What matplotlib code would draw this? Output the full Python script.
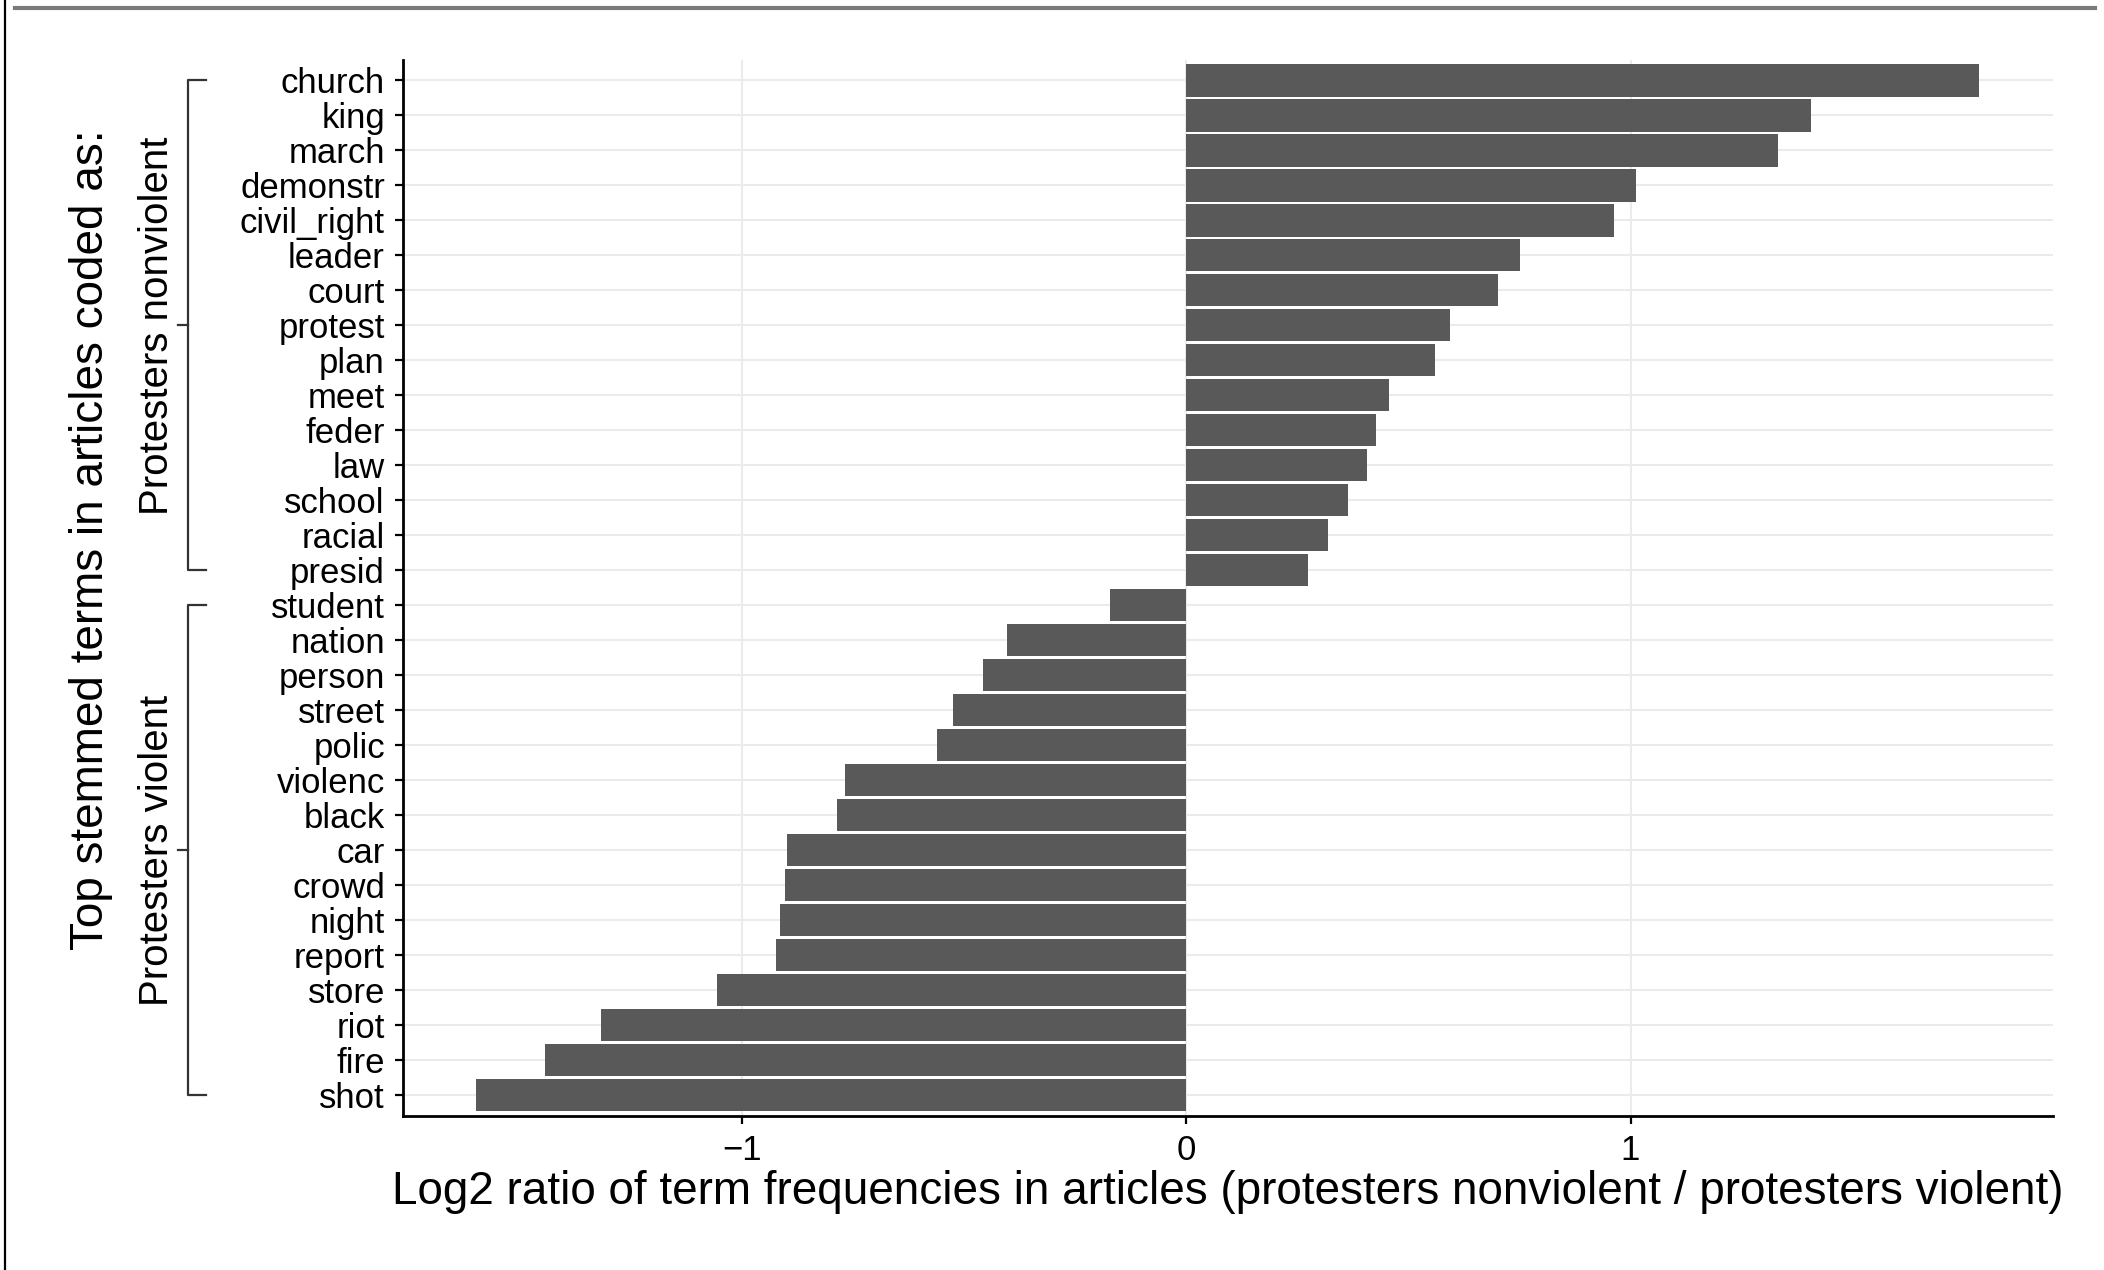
import matplotlib
matplotlib.use("Agg")
import matplotlib.pyplot as plt
from matplotlib.lines import Line2D
from matplotlib.transforms import blended_transform_factory

terms = ["church", "king", "march", "demonstr", "civil_right", "leader", "court",
         "protest", "plan", "meet", "feder", "law", "school", "racial", "presid",
         "student", "nation", "person", "street", "polic", "violenc", "black",
         "car", "crowd", "night", "report", "store", "riot", "fire", "shot"]
log2_ratio = [1.784, 1.406, 1.331, 1.012, 0.963, 0.751, 0.702,
              0.594, 0.560, 0.457, 0.428, 0.408, 0.363, 0.319, 0.275,
              -0.172, -0.403, -0.457, -0.525, -0.560, -0.767, -0.786,
              -0.899, -0.904, -0.914, -0.923, -1.056, -1.317, -1.444, -1.598]
group_names = ["Protesters nonviolent", "Protesters violent"]
group_sizes = [15, 15]
x_ticks = [-1, 0, 1]
x_ticklabels = ["\u22121", "0", "1"]
x_label = "Log2 ratio of term frequencies in articles (protesters nonviolent / protesters violent)"
y_title = "Top stemmed terms in articles coded as:"

plt.rcParams['font.family'] = ['Liberation Sans', 'DejaVu Sans']

W, H = 2104, 1270
fig = plt.figure(figsize=(W / 100, H / 100), dpi=100)
ax = fig.add_axes([403 / W, 1 - 1116 / H, (2053 - 403) / W, (1116 - 59.5) / H])

n = len(terms)
ypos = [n - 1 - i for i in range(n)]
ax.barh(ypos, log2_ratio, height=0.92, color='#595959', zorder=2)
ax.set_ylim(-0.6, n - 1 + 0.6)
ax.set_xlim(-1.763, 1.951)
ax.set_yticks(ypos)
ax.set_yticklabels(terms, fontsize=25)
ax.set_xticks(x_ticks)
ax.set_xticklabels(x_ticklabels, fontsize=25)
ax.grid(True, color='#ebebeb', lw=1.5, zorder=0)
ax.set_axisbelow(True)
for s in ['top', 'right']:
    ax.spines[s].set_visible(False)
for s in ['left', 'bottom']:
    ax.spines[s].set_linewidth(2)
    ax.spines[s].set_color('black')
ax.tick_params(axis='both', length=6, width=1.6, color='black', pad=7, labelcolor='black')

# x label
fig.text((403 + 2053) / 2 / W, 1 - 1192 / H, x_label, fontsize=33, ha='center', va='center')
# y title
fig.text(91 / W, 1 - 540 / H, y_title, fontsize=33, rotation=90, ha='center', va='center')

# brackets and group labels
tr = blended_transform_factory(fig.transFigure, ax.transData)
xv, xe, xm = 188 / W, 206 / W, 178 / W
start = 0
for name, size in zip(group_names, group_sizes):
    top = ypos[start]
    bot = ypos[start + size - 1]
    mid = (top + bot) / 2
    kw = dict(transform=tr, color='#333333', lw=1.6, clip_on=False)
    fig.add_artist(Line2D([xe, xv, xv, xe], [top, top, bot, bot], **kw))
    fig.add_artist(Line2D([xm, xv], [mid, mid], **kw))
    fig.text(157 / W, mid, name, transform=tr, fontsize=29, rotation=90,
             ha='center', va='center')
    start += size

# page decorations (document crop edges)
fig.add_artist(Line2D([15 / W, 2095 / W], [1 - 7.5 / H, 1 - 7.5 / H],
                      transform=fig.transFigure, color='#7a7a7a', lw=3))
fig.add_artist(Line2D([5 / W, 5 / W], [0, 1], transform=fig.transFigure,
                      color='black', lw=1.6))

fig.savefig("out.png", dpi=100)
